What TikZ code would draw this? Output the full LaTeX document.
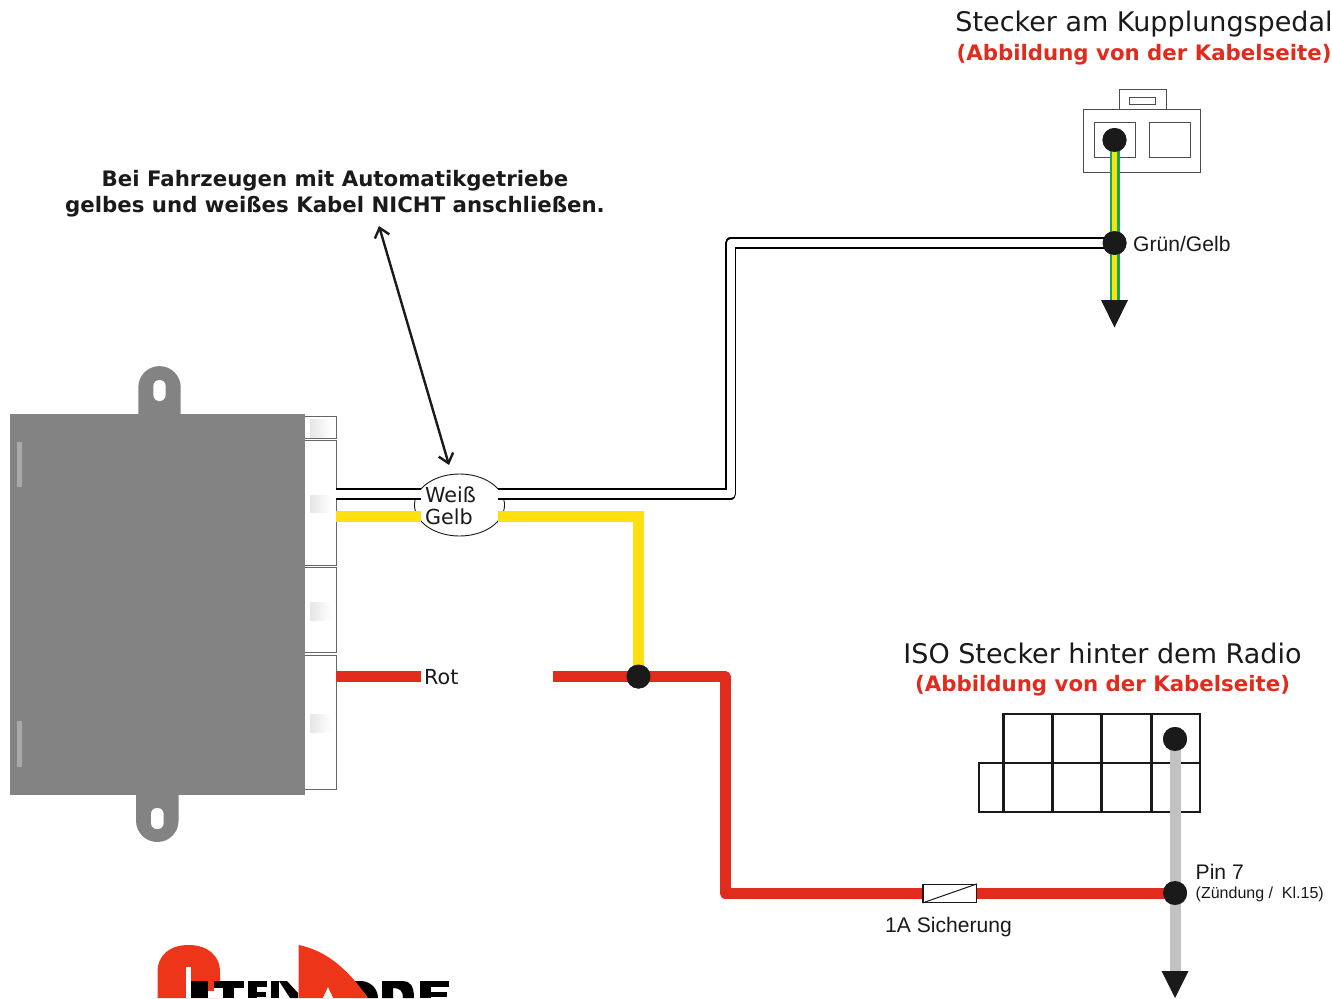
\documentclass[tikz,border=0pt]{standalone}
\usepackage{fontspec}
\setmainfont{DejaVu Sans}
\newfontfamily\arialf{Liberation Sans}
\usetikzlibrary{arrows.meta,shapes.geometric}
\definecolor{wred}{HTML}{E02B1D}
\definecolor{wyellow}{HTML}{FFE00F}
\definecolor{wgreen}{HTML}{0FA95A}
\definecolor{wgrey}{HTML}{C2C2C2}
\definecolor{modgrey}{HTML}{838383}
\definecolor{barlight}{HTML}{A9A9A9}
\definecolor{ink}{HTML}{1A1A1A}
\definecolor{logored}{HTML}{EC3519}
\tikzset{
  x=1pt,y=-1pt,
  label/.style={inner sep=0pt,anchor=base west,text=ink},
  headline/.style={inner sep=0pt,anchor=base,text=ink,font=\fontsize{27}{30}\selectfont},
  redline/.style={inner sep=0pt,anchor=base,text=wred,font=\bfseries\fontsize{21.3}{26}\selectfont},
  noteline/.style={inner sep=0pt,anchor=base,text=ink,font=\bfseries\fontsize{21.3}{26}\selectfont},
  arial/.style={font=\arialf\fontsize{21.1}{24}\selectfont},
  dotnode/.style={circle,fill=ink,minimum size=24pt,inner sep=0pt},
  wirered/.style={draw=wred,line width=11pt,line join=round},
  wireyellow/.style={draw=wyellow,line width=11pt,line join=miter},
  wirewhite/.style={draw=black,double=white,line width=1.6pt,double distance=8pt,line join=round},
  slotbox/.style={draw=black!60,line width=1pt,fill=white,outer sep=0pt,inner sep=0pt,anchor=north west},
  patch/.style={left color=black!10,right color=white,draw=none},
  plug/.style={draw=black!70,line width=0.9pt,fill=white,outer sep=0pt,inner sep=0pt,anchor=north west},
  iso/.style={draw=ink,line width=2.4pt},
}
\begin{document}
\begin{tikzpicture}
\useasboundingbox (0,0) rectangle (1332,998);
\fill[white] (0,0) rectangle (1332,998);

% logo (cut by the lower edge)
\begin{scope}
\clip (0,0) rectangle (1332,998);
\fill[logored] (157.5,998) -- (157.5,972) .. controls (157.5,955) and (170,945) .. (188.5,945) .. controls (207,945) and (220,955) .. (220,972) -- (220,998) -- cycle;
\fill[white] (186,967) rectangle (190.5,998);
\fill[white] (190.5,981) rectangle (222,998);
\fill[logored] (207,981) rectangle (214,991);
\fill[black] (191,981) rectangle (207.5,998);
\fill[black] (214,981) rectangle (244,988);
\fill[black] (223,988) rectangle (234,998);
\fill[black] (248,981) rectangle (267,987);
\fill[black] (248,987) rectangle (257,998);
\fill[black] (257,992) rectangle (266,997);
\fill[black] (271,981) rectangle (279,998);
\fill[black] (279,981) -- (287,981) -- (298,993) -- (298,998) -- (290,998) -- cycle;
\fill[black] (350,981) -- (362,981) .. controls (372,982) and (378,990) .. (378,998) -- (367,998) .. controls (366,993) and (360,988) .. (352,988) -- cycle;
\fill[logored] (298.5,945) .. controls (330,951) and (352,975) .. (368,998) -- (298.5,998) -- cycle;
\fill[white] (328,987) -- (333,998) -- (323,998) -- cycle;
\fill[black] (382,981) -- (403,981) .. controls (410,981) and (414,986) .. (414,998) -- (403,998) .. controls (403,991) and (400,988) .. (393,988) -- (393,998) -- (382,998) -- cycle;
\fill[black] (420,981) rectangle (449,987);
\fill[black] (420,987) rectangle (431,998);
\fill[black] (431,992) rectangle (447,997);
\end{scope}

% module
\node[slotbox,minimum width=32pt,minimum height=21.5pt] (slotA) at (304,416.5) {};
\node[slotbox,minimum width=32pt,minimum height=124.5pt] (slotB) at (304,440.5) {};
\node[slotbox,minimum width=32pt,minimum height=85pt] (slotC) at (304,567.5) {};
\node[slotbox,minimum width=32pt,minimum height=134pt] (slotD) at (304,655) {};
\fill[patch] (310,419) rectangle (331,437);
\fill[patch] (310,495) rectangle (331,512);
\fill[patch] (310,602) rectangle (331,620);
\fill[patch] (310,714) rectangle (331,732);
\fill[modgrey] (10,413.5) rectangle (304.5,795);
\fill[modgrey] (138.3,420) -- (138.3,387.3) arc[start angle=180,end angle=0,x radius=21.2,y radius=-21.2] -- (180.7,420) -- cycle;
\fill[modgrey] (136,790) -- (136,820.7) arc[start angle=180,end angle=0,x radius=21.3,y radius=21.3] -- (178.6,790) -- cycle;
\fill[white,rounded corners=5.9pt] (153.4,380) rectangle (165.6,401);
\fill[white,rounded corners=5.9pt] (151,808) rectangle (163.6,829);
\fill[barlight] (17,442) rectangle (21.5,487);
\fill[barlight] (17,721) rectangle (21.5,767);

% upper connector
\node[plug,minimum width=47.5pt,minimum height=20.5pt] (tab) at (1119,89) {};
\node[plug,minimum width=26pt,minimum height=7pt] (slot) at (1129.5,97.5) {};
\node[plug,minimum width=117pt,minimum height=63pt] (shell) at (1083.5,109.5) {};
\node[plug,minimum width=41pt,minimum height=35pt] (cellL) at (1094,122.5) {};
\node[plug,minimum width=41.5pt,minimum height=35pt] (cellR) at (1149,122.5) {};

% ISO connector
\draw[iso] (1003.3,714) rectangle (1200,812);
\draw[iso] (1003.3,763) -- (979,763) -- (979,812) -- (1003.3,812);
\draw[iso] (1003.3,763) -- (1200,763);
\draw[iso] (1052.5,714) -- (1052.5,812);
\draw[iso] (1101.5,714) -- (1101.5,812);
\draw[iso] (1151.5,714) -- (1151.5,812);

% junctions and helper points
\node[dotnode] (dTop) at (1114.5,140) {};
\node[dotnode] (dGG) at (1114.5,243) {};
\node[dotnode] (dRY) at (638.5,676.5) {};
\node[dotnode] (dIso) at (1175,739) {};
\node[dotnode] (dPin) at (1175,893) {};
\coordinate (whiteA) at (336,494);
\coordinate (whiteB) at (421,494);
\coordinate (whiteC) at (497.7,494);
\coordinate (yelA) at (336,516.5);
\coordinate (yelB) at (421,516.5);
\coordinate (yelC) at (497.7,516.5);
\coordinate (redA) at (336,676.5);
\coordinate (redB) at (421,676.5);
\coordinate (redC) at (552.5,676.5);
\coordinate (arrTipTop) at (1114.5,300);
\coordinate (arrTipBot) at (1175,971);

% ellipse
\node[ellipse,draw=ink,line width=0.9pt,fill=white,minimum width=90pt,minimum height=62pt,inner sep=0pt] (ring) at (459.5,505) {};

% wires
\draw[wgreen,line width=10pt] (dTop.center) -- (arrTipTop);
\draw[wyellow,line width=5.5pt] (dTop.center) -- (arrTipTop);
\draw[wirewhite] (whiteA) -- (whiteB);
\draw[wirewhite] (whiteC) -- (730.5,494) -- (730.5,243) -- (dGG.center);
\draw[wireyellow] (yelA) -- (yelB);
\draw[wireyellow] (yelC) -- (638.5,516.5) -- (dRY.center);
\draw[wirered] (redA) -- (redB);
\draw[wirered] (redC) -- (725,676.5) -- (725,893) -- (dPin.center);
\draw[wgrey,line width=11pt] (dIso.center) -- (arrTipBot);

% redraw dots above the wires
\fill[ink] (dTop) circle[radius=12];
\fill[ink] (dGG) circle[radius=12];
\fill[ink] (dRY) circle[radius=12];
\fill[ink] (dIso) circle[radius=12];
\fill[ink] (dPin) circle[radius=12];

% arrowheads
\fill[ink] (1101,300) -- (1128,300) -- (1114.5,327.5) -- cycle;
\fill[ink] (1161.5,971) -- (1188.5,971) -- (1175,998) -- cycle;

% fuse
\node[draw=ink,line width=1.1pt,fill=white,minimum width=53.5pt,minimum height=18pt,inner sep=0pt] (fuse) at (949.7,893.4) {};
\draw[ink,line width=1pt] (fuse.south west) -- (fuse.north east);

% texts
\node[headline] (t1) at (1144,32) {Stecker am Kupplungspedal};
\node[redline] (t2) at (1144,60) {(Abbildung von der Kabelseite)};
\node[headline] (t3) at (1102.5,663) {ISO Stecker hinter dem Radio};
\node[redline] (t4) at (1102.5,691) {(Abbildung von der Kabelseite)};
\node[noteline] (n1) at (335,186) {Bei Fahrzeugen mit Automatikgetriebe};
\node[noteline] (n2) at (335,212) {gelbes und weißes Kabel NICHT anschließen.};
\node[label,font=\fontsize{20.7}{24}\selectfont] (tw) at (425,502) {Weiß};
\node[label,font=\fontsize{20.7}{24}\selectfont] (tg) at (425,524) {Gelb};
\node[label,font=\fontsize{20.7}{24}\selectfont] (tr) at (424,684) {Rot};
\node[label,arial] (tgg) at (1133,251) {Grün/Gelb};
\node[label,arial] (tp) at (1195.5,879) {Pin 7};
\node[label,font=\arialf\fontsize{16}{18}\selectfont] (tz) at (1195.5,898) {(Zündung /\ \ Kl.15)};
\node[label,arial] (ts) at (885,932) {1A Sicherung};

% note arrow
\coordinate (noteEnd) at (379,226);
\coordinate (ringEnd) at (449,465);
\draw[ink,line width=2.4pt,{Straight Barb[length=9pt,width=15pt]}-{Straight Barb[length=9pt,width=15pt]}] (noteEnd) -- (ringEnd);
\end{tikzpicture}
\end{document}
